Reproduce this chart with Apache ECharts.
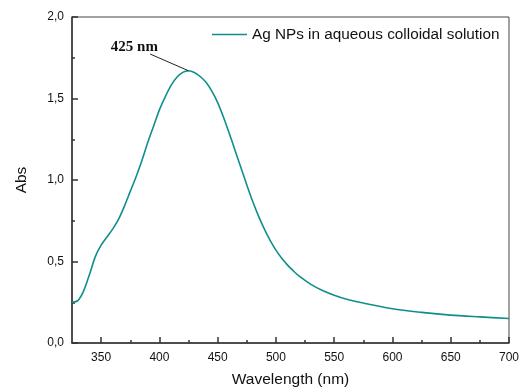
<!DOCTYPE html>
<html><head><meta charset="utf-8">
<script src="https://cdn.jsdelivr.net/npm/echarts@6/dist/echarts.min.js"></script>
<style>html,body{margin:0;padding:0;background:#fff}#c{width:519px;height:387px}</style>
</head><body><div id="c"></div>
<script>
const wavelength = [325,330,335,340,345,350,355,360,365,370,375,380,385,390,395,400,405,410,415,420,425,430,435,440,445,450,455,460,465,470,475,480,485,490,495,500,505,510,515,520,530,540,550,560,575,600,625,650,675,700];
const absorbance = [0.25,0.26,0.32,0.42,0.53,0.60,0.65,0.70,0.76,0.84,0.93,1.02,1.12,1.23,1.33,1.43,1.51,1.58,1.63,1.66,1.67,1.66,1.635,1.60,1.545,1.475,1.385,1.285,1.18,1.075,0.97,0.87,0.78,0.70,0.63,0.57,0.52,0.478,0.442,0.41,0.36,0.322,0.293,0.27,0.245,0.21,0.188,0.171,0.16,0.15];
const xMajorTicks = [350,400,450,500,550,600,650,700];
const xMinorTicks = [375,425,475,525,575,625,675];
const seriesName = 'Ag NPs in aqueous colloidal solution';
const peakLabel = '425 nm';
const peakPoint = [425, 1.67];
const leaderStart = [392, 1.773];
const labelPoint = [378.5, 1.815];

const chart = echarts.init(document.getElementById('c'));
const axisColor = '#333';
const font = 'Liberation Sans, Arial, sans-serif';
chart.setOption({
  animation: false,
  grid: {left: 72, right: 10, top: 17, bottom: 44, show: true, borderColor: '#444', borderWidth: 1, outerBoundsMode: 'none', containLabel: false},
  legend: {
    left: 207, top: 22, itemWidth: 35, itemHeight: 15, itemGap: 5,
    textStyle: {fontFamily: font, fontSize: 15.3, color: '#111'},
    data: [{name: seriesName, icon: 'path://M0,0 L35,0 L35,1.5 L0,1.5 Z'}]
  },
  xAxis: [{
    type: 'value', min: 325, max: 700,
    name: 'Wavelength (nm)', nameLocation: 'middle', nameGap: 29,
    nameTextStyle: {fontFamily: font, fontSize: 15.5, color: '#111'},
    axisLine: {show: true, lineStyle: {color: axisColor, width: 1.5}},
    axisTick: {show: true, inside: true, length: 6, customValues: xMajorTicks, lineStyle: {color: axisColor, width: 1.5}},
    axisLabel: {customValues: xMajorTicks, margin: 9, fontFamily: font, fontSize: 12, color: '#111'},
    splitLine: {show: false}
  }, {
    type: 'value', min: 325, max: 700, position: 'bottom',
    axisLine: {show: false},
    axisTick: {show: true, inside: true, length: 3, customValues: xMinorTicks, lineStyle: {color: axisColor, width: 1.5}},
    axisLabel: {show: false}, splitLine: {show: false}
  }],
  yAxis: {
    type: 'value', min: 0, max: 2, interval: 0.5,
    name: 'Abs', nameLocation: 'middle', nameGap: 42, nameRotate: 90,
    nameTextStyle: {fontFamily: font, fontSize: 15.5, color: '#111'},
    axisLine: {show: true, lineStyle: {color: axisColor, width: 1.5}},
    axisTick: {show: true, inside: true, length: 6, lineStyle: {color: axisColor, width: 1.5}},
    minorTick: {show: true, splitNumber: 2, length: 3, lineStyle: {color: axisColor, width: 1.5}},
    axisLabel: {margin: 8, fontFamily: font, fontSize: 12, color: '#111', formatter: v => v.toFixed(1).replace('.', ',')},
    splitLine: {show: false}, minorSplitLine: {show: false}
  },
  series: [{
    name: seriesName, type: 'line', xAxisIndex: 0,
    data: wavelength.map((w, i) => [w, absorbance[i]]),
    symbol: 'none', smooth: 0.3,
    lineStyle: {color: '#0f8f8c', width: 1.6},
    itemStyle: {color: '#0f8f8c'},
    markLine: {
      silent: true, symbol: 'none', animation: false,
      label: {show: false},
      lineStyle: {color: '#222', width: 1, type: 'solid'},
      data: [[{coord: leaderStart}, {coord: peakPoint}]]
    },
    markPoint: {
      silent: true, symbol: 'circle', symbolSize: 0,
      label: {show: true, formatter: peakLabel, position: 'inside', fontFamily: 'Liberation Serif, Times New Roman, serif', fontWeight: 'bold', fontSize: 15, color: '#111'},
      data: [{coord: labelPoint}]
    }
  }]
});
</script></body></html>
